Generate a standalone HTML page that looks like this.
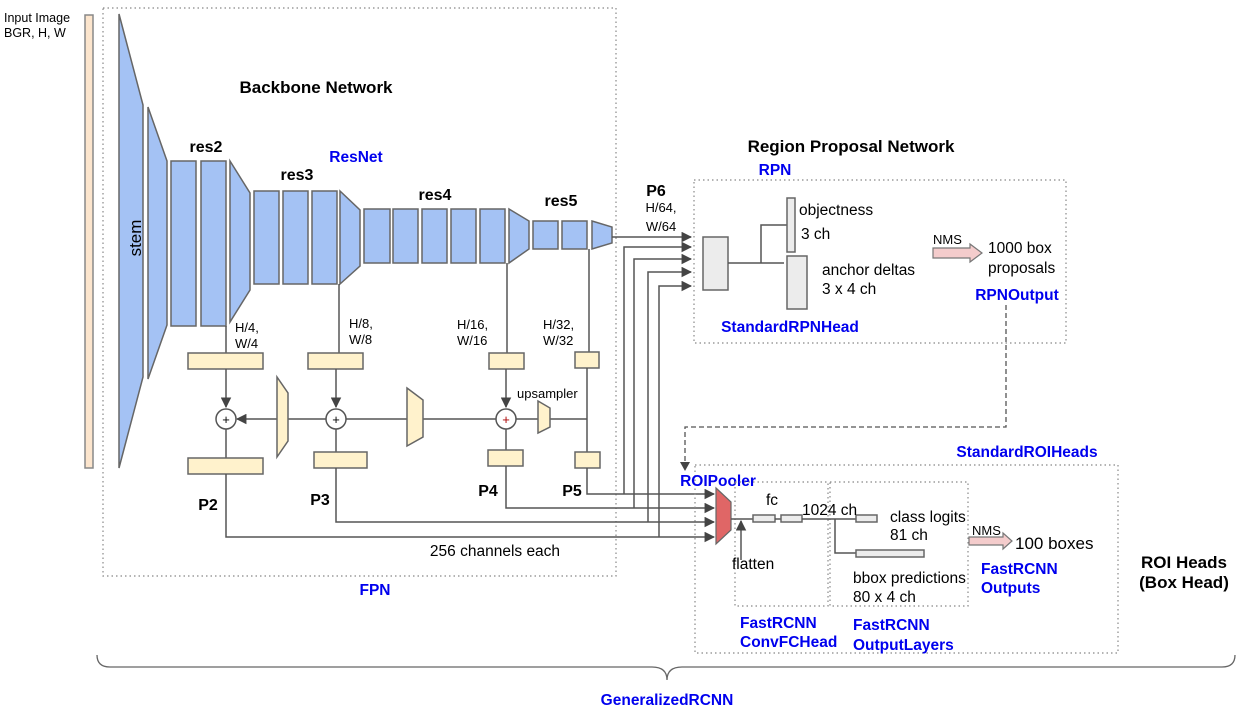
<!DOCTYPE html>
<html><head><meta charset="utf-8"><style>
body{margin:0;background:#fff}
svg{display:block;font-family:"Liberation Sans",Arial,sans-serif}
.b{font-weight:bold}
.bl{fill:#0000ee;font-weight:bold;font-size:15.5px}
.blu{fill:#a4c2f4;stroke:#666;stroke-width:1.5}
.yel{fill:#fff2cc;stroke:#666;stroke-width:1.5}
.gr{fill:#ececec;stroke:#666;stroke-width:1.5}
.ln{stroke:#555;stroke-width:1.5;fill:none}
.dot{fill:none;stroke:#888;stroke-width:1.2;stroke-dasharray:1.5 3}
</style></head><body>
<svg width="1252" height="711" viewBox="0 0 1252 711">
<defs><marker id="ar" viewBox="0 0 10 10" refX="9" refY="5" markerWidth="7" markerHeight="7" orient="auto"><path d="M0,0L10,5L0,10z" fill="#444"/></marker></defs>
<text x="4" y="22" font-size="12.5">Input Image</text>
<text x="4" y="37" font-size="12.5">BGR, H, W</text>
<rect x="85" y="15" width="8" height="453" fill="#fce5cd" stroke="#888" stroke-width="1.5"/>
<rect class="dot" x="103" y="8" width="513" height="568"/>
<text x="316" y="93" font-size="17" class="b" text-anchor="middle">Backbone Network</text>
<text x="356" y="162" class="bl" text-anchor="middle">ResNet</text>
<polygon class="blu" points="119,14 143,105 143,377 119,468"/>
<text x="141" y="238" font-size="17" transform="rotate(-90 141 238)" text-anchor="middle">stem</text>
<polygon class="blu" points="148,107 167,161 167,325 148,379"/>
<rect class="blu" x="171" y="161" width="25" height="165"/>
<rect class="blu" x="201" y="161" width="25" height="165"/>
<polygon class="blu" points="230,161 250,193 250,290 230,322"/>
<rect class="blu" x="254" y="191" width="25" height="93"/>
<rect class="blu" x="283" y="191" width="25" height="93"/>
<rect class="blu" x="312" y="191" width="25" height="93"/>
<polygon class="blu" points="340,191 360,210 360,266 340,284"/>
<rect class="blu" x="364" y="209" width="26" height="54"/>
<rect class="blu" x="393" y="209" width="25" height="54"/>
<rect class="blu" x="422" y="209" width="25" height="54"/>
<rect class="blu" x="451" y="209" width="25" height="54"/>
<rect class="blu" x="480" y="209" width="25" height="54"/>
<polygon class="blu" points="509,209 529,221 529,249 509,263"/>
<rect class="blu" x="533" y="221" width="25" height="28"/>
<rect class="blu" x="562" y="221" width="25" height="28"/>
<polygon class="blu" points="592,221 612,227 612,243 592,249"/>
<g font-size="16" class="b" text-anchor="middle">
<text x="206" y="152">res2</text><text x="297" y="180">res3</text><text x="435" y="200">res4</text><text x="561" y="206">res5</text>
</g>
<g font-size="13">
<text x="235" y="332">H/4,</text><text x="235" y="348">W/4</text>
<text x="349" y="328">H/8,</text><text x="349" y="344">W/8</text>
<text x="457" y="329">H/16,</text><text x="457" y="345">W/16</text>
<text x="543" y="329">H/32,</text><text x="543" y="345">W/32</text>
<text x="517" y="398">upsampler</text>
</g>
<line class="ln" x1="226" y1="326" x2="226" y2="353"/>
<line class="ln" x1="339" y1="284" x2="339" y2="353"/>
<line class="ln" x1="507" y1="263" x2="507" y2="353"/>
<line class="ln" x1="589" y1="249" x2="589" y2="352"/>
<rect class="yel" x="188" y="353" width="75" height="16"/>
<rect class="yel" x="308" y="353" width="55" height="16"/>
<rect class="yel" x="489" y="353" width="35" height="16"/>
<rect class="yel" x="575" y="352" width="24" height="16"/>
<line class="ln" x1="226" y1="369" x2="226" y2="407" marker-end="url(#ar)"/>
<line class="ln" x1="336" y1="369" x2="336" y2="407" marker-end="url(#ar)"/>
<line class="ln" x1="506" y1="369" x2="506" y2="407" marker-end="url(#ar)"/>
<line class="ln" x1="587" y1="368" x2="587" y2="452"/>
<line class="ln" x1="587" y1="419" x2="516" y2="419"/>
<line class="ln" x1="496" y1="419" x2="346" y2="419"/>
<line class="ln" x1="326" y1="419" x2="237" y2="419" marker-end="url(#ar)"/>
<polygon class="yel" points="277,377 288,393 288,441 277,457"/>
<polygon class="yel" points="407,388 423,400 423,437 407,446"/>
<polygon class="yel" points="538,401 550,408 550,427 538,433"/>
<g fill="#fff" stroke="#555" stroke-width="1.5"><circle cx="226" cy="419" r="10"/><circle cx="336" cy="419" r="10"/><circle cx="506" cy="419" r="10"/></g>
<g font-size="13" text-anchor="middle"><text x="226" y="424">+</text><text x="336" y="424">+</text><text x="506" y="424" fill="#a00">+</text></g>
<line class="ln" x1="226" y1="429" x2="226" y2="458"/>
<line class="ln" x1="336" y1="429" x2="336" y2="452"/>
<line class="ln" x1="506" y1="429" x2="506" y2="450"/>
<rect class="yel" x="188" y="458" width="75" height="16"/>
<rect class="yel" x="314" y="452" width="53" height="16"/>
<rect class="yel" x="488" y="450" width="35" height="16"/>
<rect class="yel" x="575" y="452" width="25" height="16"/>
<polyline class="ln" points="226,474 226,537 659,537"/>
<polyline class="ln" points="336,468 336,522 648,522"/>
<polyline class="ln" points="506,466 506,508 634,508"/>
<polyline class="ln" points="587,468 587,494 624,494"/>
<g font-size="16" class="b" text-anchor="middle"><text x="208" y="510">P2</text><text x="320" y="505">P3</text><text x="488" y="496">P4</text><text x="572" y="496">P5</text><text x="656" y="196">P6</text></g>
<text x="495" y="556" font-size="15.5" text-anchor="middle">256 channels each</text>
<text x="375" y="595" class="bl" text-anchor="middle">FPN</text>
<text x="661" y="212" font-size="13" text-anchor="middle">H/64,</text>
<text x="661" y="231" font-size="13" text-anchor="middle">W/64</text>
<line class="ln" x1="612" y1="237" x2="691" y2="237" marker-end="url(#ar)"/>
<polyline class="ln" points="624,494 624,247 691,247" marker-end="url(#ar)"/>
<polyline class="ln" points="634,508 634,259 691,259" marker-end="url(#ar)"/>
<polyline class="ln" points="648,522 648,272 691,272" marker-end="url(#ar)"/>
<polyline class="ln" points="659,537 659,286 691,286" marker-end="url(#ar)"/>
<line class="ln" x1="624" y1="494" x2="714" y2="494" marker-end="url(#ar)"/>
<line class="ln" x1="634" y1="508" x2="714" y2="508" marker-end="url(#ar)"/>
<line class="ln" x1="648" y1="522" x2="714" y2="522" marker-end="url(#ar)"/>
<line class="ln" x1="659" y1="537" x2="714" y2="537" marker-end="url(#ar)"/>
<text x="851" y="152" font-size="17" class="b" text-anchor="middle">Region Proposal Network</text>
<text x="775" y="175" class="bl" text-anchor="middle">RPN</text>
<rect class="dot" x="694" y="180" width="372" height="163"/>
<rect class="gr" x="703" y="237" width="25" height="53"/>
<polyline class="ln" points="728,263 784,263"/>
<polyline class="ln" points="761,263 761,225 787,225"/>
<rect class="gr" x="787" y="198" width="8" height="54"/>
<rect class="gr" x="787" y="256" width="20" height="53"/>
<g font-size="15.5"><text x="799" y="215">objectness</text><text x="801" y="239">3 ch</text><text x="822" y="275">anchor deltas</text><text x="822" y="294">3 x 4 ch</text>
<text x="988" y="253">1000 box</text><text x="988" y="273">proposals</text></g>
<text x="933" y="244" font-size="13">NMS</text>
<polygon points="933,248 970,248 970,244 982,253 970,262 970,258 933,258" fill="#f4cccc" stroke="#777" stroke-width="1.2"/>
<text x="1017" y="300" class="bl" text-anchor="middle">RPNOutput</text>
<text x="790" y="332" class="bl" text-anchor="middle">StandardRPNHead</text>
<polyline points="1006,305 1006,427 685,427 685,466" fill="none" stroke="#555" stroke-width="1.3" stroke-dasharray="5 3"/>
<path d="M680,462L685,471L690,462z" fill="#444"/>
<text x="1027" y="457" class="bl" text-anchor="middle">StandardROIHeads</text>
<rect class="dot" x="695" y="465" width="423" height="188"/>
<text x="718" y="486" class="bl" text-anchor="middle">ROIPooler</text>
<polygon points="716,488 731,502 731,530 716,544" fill="#e06666" stroke="#666" stroke-width="1.2"/>
<rect class="dot" x="735" y="482" width="93" height="124"/>
<rect class="dot" x="830" y="482" width="138" height="124"/>
<line class="ln" x1="731" y1="519" x2="753" y2="519"/>
<line class="ln" x1="741" y1="560" x2="741" y2="521" marker-end="url(#ar)"/>
<rect class="gr" x="753" y="515" width="22" height="7"/>
<line class="ln" x1="775" y1="519" x2="781" y2="519"/>
<rect class="gr" x="781" y="515" width="21" height="7"/>
<line class="ln" x1="802" y1="519" x2="856" y2="519"/>
<polyline class="ln" points="835,519 835,553 856,553"/>
<rect class="gr" x="856" y="515" width="21" height="7"/>
<rect class="gr" x="856" y="550" width="68" height="7"/>
<g font-size="15.5"><text x="766" y="505">fc</text><text x="802" y="515">1024 ch</text><text x="732" y="569">flatten</text>
<text x="890" y="522">class logits</text><text x="890" y="540">81 ch</text>
<text x="853" y="583">bbox predictions</text><text x="853" y="602">80 x 4 ch</text></g>
<text x="972" y="535" font-size="13">NMS</text>
<polygon points="969,537 1003,537 1003,533 1012,541 1003,549 1003,545 969,545" fill="#f4cccc" stroke="#777" stroke-width="1.2"/>
<text x="1015" y="549" font-size="17">100 boxes</text>
<text x="981" y="574" class="bl">FastRCNN</text><text x="981" y="593" class="bl">Outputs</text>
<text x="740" y="628" class="bl">FastRCNN</text><text x="740" y="647" class="bl">ConvFCHead</text>
<text x="853" y="630" class="bl">FastRCNN</text><text x="853" y="650" class="bl">OutputLayers</text>
<text x="1184" y="568" font-size="17" class="b" text-anchor="middle">ROI Heads</text>
<text x="1184" y="588" font-size="17" class="b" text-anchor="middle">(Box Head)</text>
<path d="M97,655 Q97,667 110,667 L652,667 Q667,667 667,680 Q667,667 682,667 L1222,667 Q1235,667 1235,655" fill="none" stroke="#666" stroke-width="1.3"/>
<text x="667" y="705" class="bl" text-anchor="middle">GeneralizedRCNN</text>
</svg>
</body></html>
